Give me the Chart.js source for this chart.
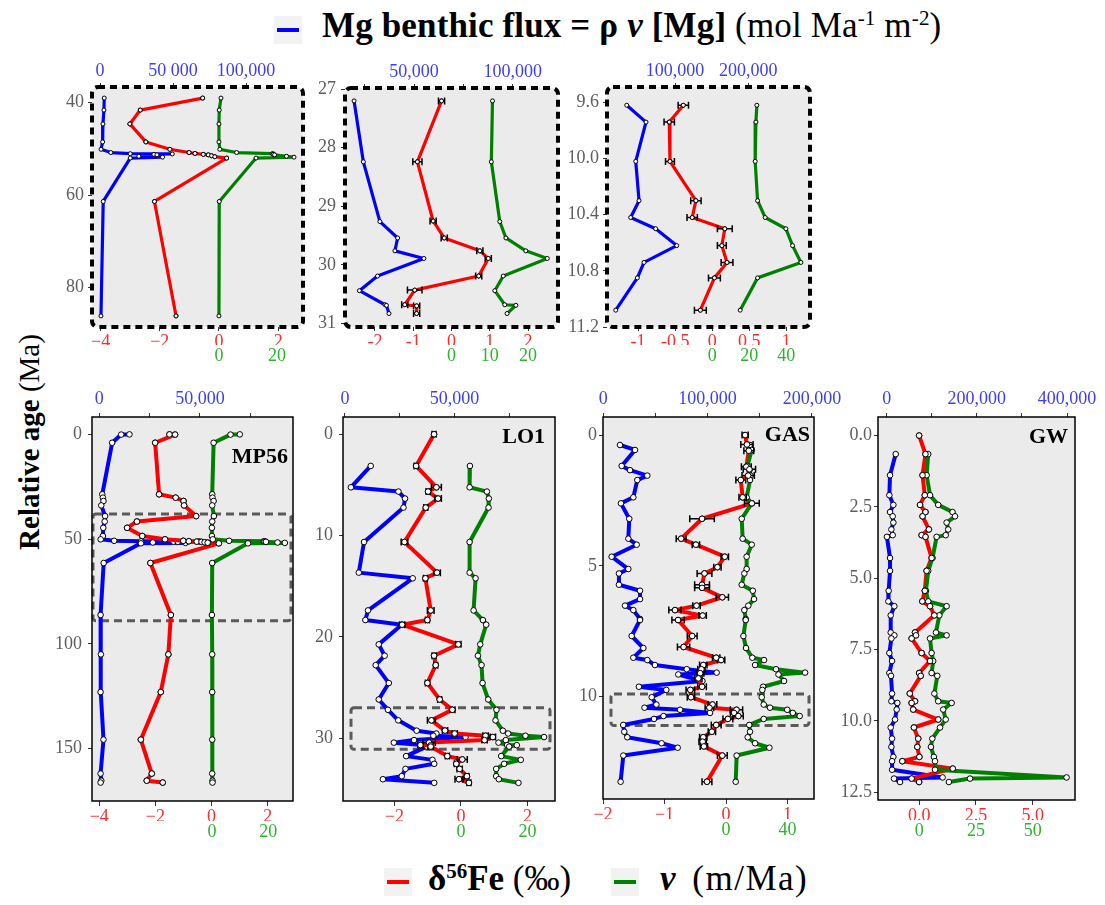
<!DOCTYPE html>
<html>
<head>
<meta charset="utf-8">
<title>Mg benthic flux, δ56Fe and ν profiles</title>
<script src="https://cdn.jsdelivr.net/npm/chart.js@4.4.1/dist/chart.umd.min.js"></script>
<style>
  body { margin: 0; width: 1105px; height: 905px; background: #fff; position: relative; overflow: hidden;
         font-family: 'Liberation Serif', 'DejaVu Serif', serif; color: #000; }
  canvas { position: absolute; }
  .legend { position: absolute; white-space: nowrap; font-size: 35px; line-height: 1; }
  .swatch { position: absolute; width: 28px; height: 28px; background: #F2F2F2; }
  .swatch i { position: absolute; left: 3px; right: 3px; top: 12px; height: 4px; }
  sup { font-size: 60%; vertical-align: 0; position: relative; top: -0.55em; }
  #ytitle { position: absolute; left: 29px; top: 442px; transform: translate(-50%, -50%) rotate(-90deg);
            font-size: 29px; white-space: nowrap; }
</style>
</head>
<body>

<div class="swatch" style="left:274px;top:16px"><i style="background:#0000FF"></i></div>
<div class="legend" style="left:322px;top:8px;letter-spacing:0.15px"><b>Mg benthic flux = ρ <i>ν</i> [Mg]</b> (mol Ma<sup>-1</sup> m<sup>-2</sup>)</div>

<div class="swatch" style="left:384px;top:868px"><i style="background:#FF0000"></i></div>
<div class="legend" style="left:428px;top:861px"><b>δ<sup>56</sup>Fe</b> (‰)</div>
<div class="swatch" style="left:611px;top:868px"><i style="background:#008000"></i></div>
<div class="legend" style="left:660px;top:861px"><b><i>ν</i></b> <span style="margin-left:8px;letter-spacing:1.5px">(m/Ma)</span></div>

<div id="ytitle"><b>Relative age</b> (Ma)</div>

<script>
// ---- MP56 ----
const mp56Age  = [0.0, 0.1, 4.0, 28.6, 30.2, 31.8, 33.9, 39.0, 41.6, 44.6, 48.5, 50.1, 50.8, 51.05, 51.1, 51.2, 51.3, 51.6, 51.8, 52.0, 61.4, 86.2, 105, 123, 145.7, 161.9, 165.3, 166.2];
const mp56Flux = [15000, 10900, 6400, 1500, 1800, 2100, 1000, 2900, 2700, 2000, 1800, 700, 7400, 20700, 49500, 36900, 39000, 26600, 42800, 20700, 2200, 660, 825, 660, 2100, 660, 990, 660];
const mp56Nu   = [9.9, 6.6, 0.6, 0.1, 0.2, 0.6, 0.1, 0.7, 0.1, 0, 0, 0.3, 6.1, 18.4, 18.8, 18.7, 19.2, 23.3, 25.9, 12.8, 0.1, 0, 0.1, 0.1, 0.1, 0.1, 0.2, 0.2];
const mp56FeAge = [0.0, 0.1, 4.0, 28.6, 30.2, 31.8, 33.9, 39.0, 41.6, 44.6, 48.5, 50.1, 50.8, 51.0, 51.2, 51.3, 51.5, 51.7, 52.0, 61.4, 86.2, 105, 123, 145.7, 161.9, 165.3, 166.2];
const mp56Fe   = [-1.50, -1.30, -2.01, -1.87, -1.28, -1.00, -0.98, -0.55, -2.66, -3.01, -2.47, -1.66, -1.01, -0.81, -0.53, -0.36, -0.25, -0.14, 0.26, -2.18, -1.45, -1.54, -1.81, -2.52, -2.13, -2.31, -1.74];

// ---- LO1 ----
const lo1Age  = [3.13, 5.24, 5.66, 6.35, 7.24, 10.64, 13.66, 14.22, 17.39, 18.34, 18.8, 20.74, 21.86, 22.79, 24.56, 26.18, 27.2, 28.24, 29.26, 29.54, 29.76, 29.89, 30.19, 30.44, 30.68, 30.69, 30.83, 31.77, 32.14, 32.53, 33.03, 33.75, 34.05, 34.41];
const lo1Flux = [11750, 2700, 24400, 27400, 26700, 8700, 6300, 30900, 10500, 9300, 25900, 15400, 18100, 14000, 20000, 15400, 19600, 24300, 32700, 41700, 40300, 55000, 31500, 22300, 35300, 36000, 37300, 27900, 39900, 40700, 27600, 25900, 17300, 40700];
const lo1Nu   = [2.7, 2.6, 7.8, 8.4, 8.3, 2.6, 2.6, 4.4, 3.8, 6.6, 7.6, 5.8, 5.1, 6.2, 6.5, 8.2, 10.7, 10.4, 12.6, 14.2, 19.4, 25.0, 13.5, 11.3, 13.9, 16.8, 14.5, 12.1, 18.0, 13.0, 10.6, 10.6, 11.4, 17.3];
const lo1FeAge = [0, 3.13, 5.24, 5.66, 6.35, 7.24, 10.64, 13.66, 14.22, 17.39, 18.34, 18.8, 20.74, 21.86, 22.79, 24.56, 26.18, 27.2, 28.24, 29.25, 29.54, 29.76, 29.89, 30.19, 30.43, 30.68, 30.70, 30.83, 31.77, 32.1, 32.53, 33.03, 33.75, 34.05, 34.41];
const lo1Fe    = [-0.81, -1.35, -0.74, -0.99, -0.69, -1.06, -1.70, -0.72, -1.07, -0.91, -1.01, -1.77, -0.08, -0.81, -0.76, -1.01, -0.64, -0.26, -0.89, -0.48, -0.19, 0.74, 0.96, 0.71, -0.96, -1.22, -0.91, -0.91, -0.41, 0.04, -0.14, -0.04, 0.18, -0.06, 0.24];
const lo1FeErr = [0.06, 0.06, 0.15, 0.06, 0.1, 0.06, 0.1, 0.1, 0.06, 0.1, 0.06, 0.08, 0.08, 0.06, 0.06, 0.06, 0.06, 0.08, 0.12, 0.08, 0.08, 0.08, 0.08, 0.08, 0.19, 0.08, 0.08, 0.08, 0.06, 0.15, 0.06, 0.08, 0.06, 0.12, 0.06];

// ---- GAS ----
const gasAge  = [0.38, 0.57, 1.18, 1.34, 1.55, 1.72, 2.38, 2.61, 3.20, 3.96, 4.19, 4.65, 5.12, 5.29, 5.72, 5.95, 6.27, 6.52, 6.69, 7.03, 7.07, 7.68, 8.14, 8.51, 8.60, 8.79, 8.95, 9.08, 9.15, 9.40, 9.62, 9.74, 10.02, 10.30, 10.42, 10.50, 10.62, 10.74, 10.85, 11.08, 11.34, 11.55, 11.78, 11.95, 12.25, 13.25];
const gasFlux = [16000, 30400, 17600, 25600, 42200, 32600, 28800, 16900, 24900, 24000, 32000, 8000, 24000, 15000, 15000, 35200, 35200, 20800, 28800, 35200, 35200, 27200, 38400, 28800, 42200, 49500, 80000, 108700, 71900, 95000, 34100, 60400, 46400, 50900, 39500, 73600, 102300, 57700, 48600, 19100, 20100, 23000, 55900, 71300, 19200, 16600];
const gasNu   = [15.6, 16.7, 13.9, 15.2, 16.0, 15.6, 13.4, 16.7, 10.2, 10.8, 16.7, 13.4, 13.4, 11.9, 10.2, 17.4, 18.2, 14.5, 11.9, 12.8, 12.8, 11.3, 13.0, 17.1, 24.7, 18.9, 32.5, 51.4, 34.1, 37.7, 24.1, 23.6, 23.2, 24.5, 28.6, 39.8, 43.4, 47.9, 24.5, 15.1, 15.6, 14.1, 18.9, 28.2, 6.9, 6.3];
const gasFeAge = [0, 0.36, 0.6, 1.21, 1.31, 1.55, 1.72, 2.38, 2.61, 3.20, 3.96, 4.19, 4.65, 5.05, 5.29, 5.72, 5.84, 6.2, 6.52, 6.69, 6.9, 7.07, 7.68, 8.10, 8.51, 8.60, 8.79, 8.95, 9.1, 9.3, 9.62, 9.74, 10.02, 10.30, 10.42, 10.50, 10.62, 10.74, 10.85, 11.08, 11.34, 11.55, 11.72, 11.9, 12.25, 13.25];
const gasFe    = [0.31, 0.34, 0.37, 0.33, 0.38, 0.36, 0.24, 0.27, 0.42, -0.39, -0.73, -0.49, -0.02, -0.14, -0.35, -0.39, -0.39, -0.06, -0.48, -0.83, -0.38, -0.78, -0.55, -0.69, -0.16, -0.08, -0.37, -0.40, -0.42, -0.45, -0.39, -0.58, -0.57, -0.22, -0.27, 0.17, 0.13, 0.20, 0.03, -0.16, -0.23, -0.37, -0.38, -0.36, -0.06, -0.31];
const gasFeErr = [0.05, 0.1, 0.08, 0.08, 0.1, 0.1, 0.08, 0.06, 0.12, 0.2, 0.08, 0.06, 0.06, 0.06, 0.12, 0.12, 0.12, 0.1, 0.06, 0.1, 0.06, 0.1, 0.08, 0.1, 0.06, 0.06, 0.06, 0.06, 0.06, 0.06, 0.07, 0.07, 0.06, 0.07, 0.07, 0.1, 0.06, 0.08, 0.08, 0.08, 0.06, 0.06, 0.06, 0.06, 0.08, 0.08];

// ---- GW ----
const gwAge  = [0.65, 1.39, 2.09, 2.43, 2.68, 2.83, 3.05, 3.29, 3.49, 3.55, 4.29, 4.74, 5.44, 5.81, 5.98, 6.30, 6.90, 7.00, 7.11, 7.62, 7.90, 8.32, 8.42, 9.04, 9.31, 9.37, 9.60, 9.95, 10.23, 10.62, 10.91, 11.26, 11.41, 11.71, 11.98, 12.02, 12.14];
const gwFlux = [20000, 7400, 5900, 14800, 7400, 13300, 14800, 10400, 13300, 500, 7400, 7400, 4400, 3700, 17000, 8900, 8900, 17000, 10400, 5900, 11900, 5900, 9600, 11900, 10400, 23700, 22200, 18500, 8900, 11900, 10400, 14800, 11900, 11900, 124000, 16300, 29600];
const gwNu   = [4.0, 3.3, 4.8, 8.4, 14.7, 15.8, 12.1, 12.8, 11.7, 7.7, 5.9, 4.0, 3.0, 4.0, 12.1, 8.9, 7.4, 12.1, 4.8, 5.5, 6.2, 5.5, 8.0, 6.7, 8.4, 14.3, 10.6, 11.7, 9.2, 5.8, 5.2, 6.5, 7.0, 7.0, 64.9, 22.4, 13.1];
const gwFeAge = [0, 0.65, 1.39, 2.09, 2.43, 2.68, 2.83, 3.29, 3.49, 3.55, 4.29, 4.74, 5.44, 5.81, 5.98, 6.30, 6.90, 7.00, 7.11, 7.62, 7.90, 8.32, 8.42, 9.04, 9.31, 9.37, 9.60, 9.95, 10.23, 10.62, 10.91, 11.26, 11.41, 11.67, 12.02, 12.14];
const gwFe    = [0, 0.28, 0.15, 0.25, 0.04, 0.28, 0.15, 0.43, 0.11, 0.28, 0.55, 0.33, 0.25, 0.14, 0.48, 0.67, -0.18, -0.14, -0.33, 0.11, 0.48, 0, 0.07, -0.41, -0.18, -0.33, -0.26, 0.84, -0.23, -0.04, -0.08, 0.01, -0.74, 1.48, -0.33, 0.0];

// zoom windows marked in the lower panels (age range)
const mp56Window = [38, 89];
const lo1Window  = [27, 31.1];
const gasWindow  = [9.9, 11.1];

// tick values and labels
const t1AgeTicks = [40, 60, 80];
const t2AgeTicks = [27, 28, 29, 30, 31];
const t3AgeTicks = [9.6, 10.0, 10.4, 10.8, 11.2];
const mp56AgeTicks = [0, 50, 100, 150];
const lo1AgeTicks = [0, 10, 20, 30];
const gasAgeTicks = [0, 5, 10];
const gwAgeTicks = [0, 2.5, 5, 7.5, 10, 12.5];

const t1FluxTicks = [0, 50000, 100000];        const t1FluxLabels = ['0', '50 000', '100,000'];
const t2FluxTicks = [25000, 50000, 75000, 100000]; const t2FluxLabels = ['', '50,000', '', '100,000'];
const t3FluxTicks = [100000, 200000];          const t3FluxLabels = ['100,000', '200,000'];
const lowFluxTicks = [0, 25000, 50000, 75000]; const lowFluxLabels = ['0', '', '50,000', ''];
const gasFluxTicks = [0, 50000, 100000, 150000, 200000]; const gasFluxLabels = ['0', '', '100,000', '', '200,000'];
const gwFluxTicks = [0, 100000, 200000, 300000, 400000]; const gwFluxLabels = ['0', '', '200,000', '', '400,000'];

const t1FeTicks = [-4, -2, 0, 2];         const t1FeLabels = ['−4', '−2', '0', '2'];
const t2FeTicks = [-2, -1, 0, 1, 2];      const t2FeLabels = ['-2', '-1', '0', '1', '2'];
const t3FeTicks = [-1, -0.5, 0, 0.5, 1];  const t3FeLabels = ['-1', '-0.5', '0', '0.5', '1'];
const mp56FeTicks = [-4, -2, 0, 2];       const mp56FeLabels = ['−4', '−2', '0', '2'];
const lo1FeTicks = [-2, 0, 2];            const lo1FeLabels = ['−2', '0', '2'];
const gasFeTicks = [-2, -1, 0, 1];        const gasFeLabels = ['−2', '−1', '0', '1'];
const gwFeTicks = [0, 2.5, 5];            const gwFeLabels = ['0.0', '2.5', '5.0'];

const t1NuTicks = [0, 20];
const t2NuTicks = [0, 10, 20];
const t3NuTicks = [0, 20, 40];
const mp56NuTicks = [0, 20];
const lo1NuTicks = [0, 20];
const gasNuTicks = [0, 40];
const gwNuTicks = [0, 25, 50];

const FONT = "'Liberation Serif', 'DejaVu Serif', serif";
const BLUE = '#0000FF', RED = '#FF0000', GREEN = '#008000';
const YW = 55, TH = 30, GH = 24, RP = 40;

const panels = [
  { age: mp56Age, flux: mp56Flux, nu: mp56Nu, feAge: mp56FeAge, fe: mp56Fe, feErr: null,
    left: 92, top: 87, w: 211, h: 240, inset: true, redH: 18, yPad: 4, topPad: 1,
    yMin: 36.6, yMax: 88.6, yTicks: t1AgeTicks, yDec: 0,
    feMin: -4.29, feMax: 2.84, fluxMin: -5480, fluxMax: 139000, nuMin: -43.8, nuMax: 29.0,
    fluxTicks: t1FluxTicks, fluxLabels: t1FluxLabels, feTicks: t1FeTicks, feLabels: t1FeLabels, nuTicks: t1NuTicks },
  { age: lo1Age, flux: lo1Flux, nu: lo1Nu, feAge: lo1FeAge, fe: lo1Fe, feErr: lo1FeErr,
    left: 345, top: 88, w: 213, h: 239, inset: true, redH: 18, yPad: 5, topPad: 1,
    yMin: 26.98, yMax: 31.06, yTicks: t2AgeTicks, yDec: 0,
    feMin: -2.78, feMax: 2.78, fluxMin: 15000, fluxMax: 123000, nuMin: -27.8, nuMax: 27.8,
    fluxTicks: t2FluxTicks, fluxLabels: t2FluxLabels, feTicks: t2FeTicks, feLabels: t2FeLabels, nuTicks: t2NuTicks },
  { age: gasAge, flux: gasFlux, nu: gasNu, feAge: gasFeAge, fe: gasFe, feErr: gasFeErr,
    left: 607, top: 87, w: 203, h: 240, inset: true, redH: 18, yPad: 4, topPad: 1,
    yMin: 9.49, yMax: 11.2, yTicks: t3AgeTicks, yDec: 1,
    feMin: -1.42, feMax: 1.32, fluxMin: 7200, fluxMax: 284100, nuMin: -56.8, nuMax: 52.8,
    fluxTicks: t3FluxTicks, fluxLabels: t3FluxLabels, feTicks: t3FeTicks, feLabels: t3FeLabels, nuTicks: t3NuTicks },
  { age: mp56Age, flux: mp56Flux, nu: mp56Nu, feAge: mp56FeAge, fe: mp56Fe, feErr: null,
    left: 92, top: 417, w: 201, h: 384, inset: false, redH: 20, yPad: 6, topPad: 3,
    yMin: -8.3, yMax: 175, yTicks: mp56AgeTicks, yDec: 0, title: 'MP56', titleDy: 46, titleDx: 5,
    box: mp56Window, boxInset: [1, 2],
    feMin: -4.26, feMax: 2.90, fluxMin: -3600, fluxMax: 96200, nuMin: -42.6, nuMax: 28.8,
    fluxTicks: lowFluxTicks, fluxLabels: lowFluxLabels, feTicks: mp56FeTicks, feLabels: mp56FeLabels, nuTicks: mp56NuTicks },
  { age: lo1Age, flux: lo1Flux, nu: lo1Nu, feAge: lo1FeAge, fe: lo1Fe, feErr: lo1FeErr,
    left: 343, top: 417, w: 212, h: 384, inset: false, redH: 20, yPad: 6, topPad: 3,
    yMin: -1.7, yMax: 36.2, yTicks: lo1AgeTicks, yDec: 0, title: 'LO1', titleDy: 26, titleDx: 10,
    box: lo1Window, boxInset: [8, 5],
    feMin: -3.55, feMax: 2.83, fluxMin: -900, fluxMax: 95800, nuMin: -35.5, nuMax: 28.3,
    fluxTicks: lowFluxTicks, fluxLabels: lowFluxLabels, feTicks: lo1FeTicks, feLabels: lo1FeLabels, nuTicks: lo1NuTicks },
  { age: gasAge, flux: gasFlux, nu: gasNu, feAge: gasFeAge, fe: gasFe, feErr: gasFeErr,
    left: 603, top: 417, w: 211, h: 382, inset: false, redH: 20, yPad: 2, topPad: 3,
    yMin: -0.69, yMax: 13.91, yTicks: gasAgeTicks, yDec: 0, title: 'GAS', titleDy: 24, titleDx: 4,
    box: gasWindow, boxInset: [8, 5],
    feMin: -2.0, feMax: 1.43, fluxMin: -290, fluxMax: 202000, nuMin: -80, nuMax: 57.2,
    fluxTicks: gasFluxTicks, fluxLabels: gasFluxLabels, feTicks: gasFeTicks, feLabels: gasFeLabels, nuTicks: gasNuTicks },
  { age: gwAge, flux: gwFlux, nu: gwNu, feAge: gwFeAge, fe: gwFe, feErr: null,
    left: 878, top: 417, w: 197, h: 383, inset: false, redH: 20, yPad: 2, topPad: 3,
    yMin: -0.65, yMax: 12.77, yTicks: gwAgeTicks, yDec: 1, title: 'GW', titleDy: 26, titleDx: 7,
    feMin: -1.81, feMax: 6.86, fluxMin: -19300, fluxMax: 417700, nuMin: -18.1, nuMax: 68.6,
    fluxTicks: gwFluxTicks, fluxLabels: gwFluxLabels, feTicks: gwFeTicks, feLabels: gwFeLabels, nuTicks: gwNuTicks }
];

// gray panel, zoom window, error bars, border and panel name
const panelDeco = {
  id: 'panelDeco',
  beforeDraw(chart, args, o) {
    const { ctx, chartArea: a } = chart;
    ctx.save();
    ctx.fillStyle = '#EBEBEB';
    ctx.beginPath();
    ctx.roundRect(a.left, a.top, a.width, a.height, o.inset ? 6 : 0);
    ctx.fill();
    ctx.restore();
  },
  beforeDatasetsDraw(chart, args, o) {
    if (!o.box) return;
    const { ctx, chartArea: a, scales } = chart;
    const y1 = scales.y.getPixelForValue(o.box[0]);
    const y2 = scales.y.getPixelForValue(o.box[1]);
    ctx.save();
    ctx.strokeStyle = '#5A5A5A';
    ctx.lineWidth = 3;
    ctx.setLineDash([8, 5]);
    ctx.beginPath();
    ctx.roundRect(a.left + o.boxInset[0], y1, a.width - o.boxInset[0] - o.boxInset[1], y2 - y1, 3);
    ctx.stroke();
    ctx.restore();
  },
  afterDatasetsDraw(chart) {
    const { ctx } = chart;
    chart.data.datasets.forEach((ds, di) => {
      if (!ds.errors) return;
      const meta = chart.getDatasetMeta(di);
      const xs = chart.scales[ds.xAxisID];
      ctx.save();
      ctx.strokeStyle = '#000';
      ctx.lineWidth = 1.5;
      ds.data.forEach((p, i) => {
        const e = ds.errors[i];
        if (!e) return;
        const el = meta.data[i];
        const x1 = xs.getPixelForValue(p.x - e), x2 = xs.getPixelForValue(p.x + e);
        ctx.beginPath();
        ctx.moveTo(x1, el.y); ctx.lineTo(x2, el.y);
        ctx.moveTo(x1, el.y - 3.5); ctx.lineTo(x1, el.y + 3.5);
        ctx.moveTo(x2, el.y - 3.5); ctx.lineTo(x2, el.y + 3.5);
        ctx.stroke();
      });
      ctx.restore();
      meta.data.forEach(el => el.draw(ctx, chart.chartArea));
    });
  },
  afterDraw(chart, args, o) {
    const { ctx, chartArea: a } = chart;
    ctx.save();
    ctx.strokeStyle = '#000';
    if (o.inset) {
      ctx.lineWidth = 4;
      ctx.setLineDash([7, 5]);
      ctx.beginPath();
      ctx.roundRect(a.left, a.top, a.width, a.height, 6);
      ctx.stroke();
    } else {
      ctx.lineWidth = 1.5;
      ctx.strokeRect(a.left, a.top, a.width, a.height);
    }
    if (o.title) {
      ctx.setLineDash([]);
      ctx.font = `bold 22px ${FONT}`;
      ctx.fillStyle = '#000';
      ctx.textAlign = 'right';
      ctx.textBaseline = 'alphabetic';
      ctx.fillText(o.title, a.right - o.titleDx, a.top + o.titleDy);
    }
    ctx.restore();
  }
};

function points(ages, vals, lo, hi) {
  const out = [];
  ages.forEach((a, i) => { if (a >= lo && a <= hi) out.push({ x: vals[i], y: a, i }); });
  return out;
}

function xAxis(position, weight, min, max, ticks, labels, color, height, tickLen, pad) {
  return {
    type: 'linear', position, weight, min, max,
    afterBuildTicks: s => { s.ticks = ticks.map(v => ({ value: v })); },
    afterFit: s => { s.height = height; s.paddingLeft = 0; s.paddingRight = 0; },
    ticks: { color, font: { family: FONT, size: 18 }, padding: pad, autoSkip: false, maxRotation: 0,
             callback: (v, i) => labels[i] },
    grid: { display: tickLen > 0, drawOnChartArea: false, drawTicks: tickLen > 0, tickLength: tickLen,
            tickColor: '#333', tickWidth: 1 },
    border: { display: false }
  };
}

panels.forEach(p => {
  const cv = document.createElement('canvas');
  cv.width = YW + p.w + RP;
  cv.height = TH + p.h + p.redH + GH;
  cv.style.left = (p.left - YW) + 'px';
  cv.style.top = (p.top - TH) + 'px';
  document.body.appendChild(cv);

  const fluxPts = points(p.age, p.flux, p.yMin, p.yMax);
  const nuPts = points(p.age, p.nu, p.yMin, p.yMax);
  const fePts = points(p.feAge, p.fe, p.yMin, p.yMax);
  const feErrs = fePts.map(d => p.feErr ? p.feErr[d.i] : 0);
  const lw = p.inset ? 3.2 : 4;
  const pr = p.inset ? 2 : 2.8;
  const common = { borderWidth: lw, tension: 0, pointRadius: pr, pointBackgroundColor: '#fff',
                   pointBorderColor: '#000', pointBorderWidth: 1, borderJoinStyle: 'round',
                   borderCapStyle: 'round', yAxisID: 'y' };

  new Chart(cv, {
    type: 'line',
    data: {
      datasets: [
        { ...common, label: 'ν (m/Ma)', data: nuPts, xAxisID: 'xg', borderColor: GREEN, order: 0 },
        { ...common, label: 'δ56Fe (‰)', data: fePts, errors: feErrs, xAxisID: 'xr', borderColor: RED, order: 1 },
        { ...common, label: 'Mg benthic flux', data: fluxPts, xAxisID: 'xb', borderColor: BLUE, order: 2 }
      ]
    },
    options: {
      responsive: false,
      animation: false,
      events: [],
      layout: { autoPadding: false, padding: { left: 0, right: RP, top: 0, bottom: 0 } },
      plugins: {
        legend: { display: false },
        tooltip: { enabled: false },
        panelDeco: { inset: p.inset, box: p.box, boxInset: p.boxInset, title: p.title,
                     titleDy: p.titleDy, titleDx: p.titleDx }
      },
      scales: {
        y: {
          type: 'linear', reverse: true, min: p.yMin, max: p.yMax, position: 'left',
          afterBuildTicks: s => { s.ticks = p.yTicks.map(v => ({ value: v })); },
          afterFit: s => { s.width = YW; s.paddingTop = 0; s.paddingBottom = 0; },
          ticks: { color: '#5E5E5E', font: { family: FONT, size: 18 }, padding: p.yPad,
                   callback: v => v.toFixed(p.yDec) },
          grid: { drawOnChartArea: false, tickLength: 4, tickColor: '#333', tickWidth: 1 },
          border: { display: false }
        },
        xb: xAxis('top', 1, p.fluxMin, p.fluxMax, p.fluxTicks, p.fluxLabels, '#3C3CFF', TH, 4, p.topPad),
        xr: xAxis('bottom', 1, p.feMin, p.feMax, p.feTicks, p.feLabels, '#FF2A2A', p.redH, p.inset ? 4 : 5, 0),
        xg: xAxis('bottom', 2, p.nuMin, p.nuMax, p.nuTicks, p.nuTicks.map(String), '#2DB42D', GH, 0, 0)
      }
    },
    plugins: [panelDeco]
  });
});
</script>
</body>
</html>
